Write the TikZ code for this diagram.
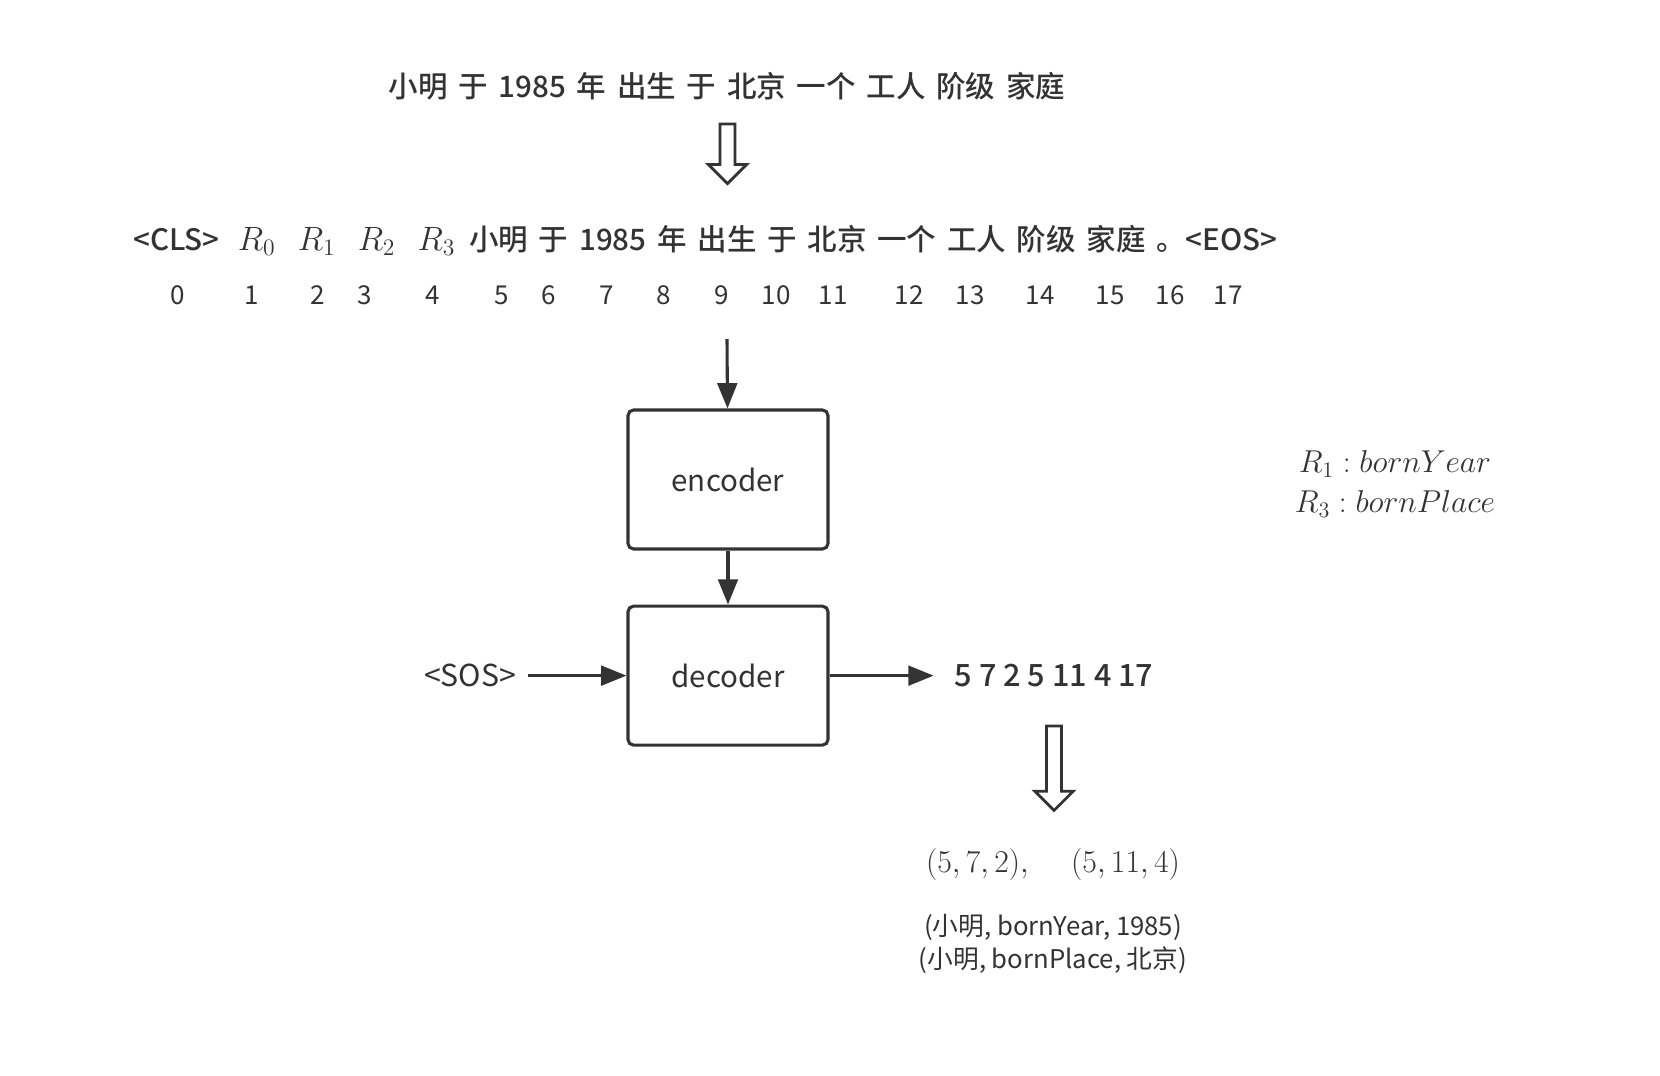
\RequirePackage{fix-cm}
\documentclass[tikz,border=0pt]{standalone}
\usepackage{fontspec}
\setmainfont{Noto Sans CJK SC}
\newfontfamily\rowfont{Noto Sans CJK SC Medium}
\newfontfamily\medfont{Noto Sans CJK SC Medium}
\usepackage{amsmath}
\usetikzlibrary{arrows.meta, positioning, shapes.arrows}
\definecolor{ink}{HTML}{333333}
\newcommand\widespaces{\spaceskip=\dimexpr\fontdimen2\font+2.9pt\relax}

\begin{document}
\begin{tikzpicture}[
    x=0.025cm, y=-0.025cm,
    box/.style={rectangle, draw=ink, line width=2.2pt, rounded corners=4pt, minimum width=5cm, minimum height=3.475cm, font=\fontsize{21}{25}\selectfont, text=ink},
    words/.style={font=\fontsize{21}{25}\selectfont\rowfont, execute at begin node=\widespaces, text=ink, inner sep=0pt},
    idx/.style={font=\fontsize{18.5}{22}\selectfont, text=ink, inner sep=0pt},
    plain/.style={font=\fontsize{21.5}{25}\selectfont, text=ink},
    hollow/.style={single arrow, draw=ink, line width=2pt, rotate=-90, inner sep=0.154cm, single arrow head extend=0.29cm},
    arrow/.style={-{Triangle[length=18pt, width=14pt]}, draw=ink, line width=2.2pt},
]
\useasboundingbox (0,0) rectangle (1660,1076);

% input sentence and tokens
\node[words] (sent) at (727,86) {小明 于 1985 年 出生 于 北京 一个 工人 阶级 家庭};
\node[hollow, minimum height=1.49cm] (down1) at (727.5,150) {};
\node[words, anchor=west] (tokens) at (133,240) {<CLS>\hspace{13pt}{\fontsize{24}{28}\selectfont$R_0$\hspace{16pt}$R_1$\hspace{16pt}$R_2$\hspace{16pt}$R_3$}\hspace{10pt}小明 于 1985 年 出生 于 北京 一个 工人 阶级 家庭 。<EOS>};

\foreach \i/\x in {0/178, 1/252, 2/318, 3/365, 4/433, 5/502, 6/549, 7/607, 8/664, 9/722, 10/776, 11/833, 12/909, 13/970, 14/1040, 15/1110, 16/1170, 17/1228}
    \node[idx] (idx\i) at (\x,295) {\i};

% model
\coordinate (feed) at (727,339);
\node[box] (enc) at (728,479.5) {encoder};
\node[box, below=1.35cm of enc] (dec) {decoder};
\node[plain, inner xsep=0.3cm, left=2.45cm of dec] (sos) {<SOS>};
\node[plain, font=\fontsize{21.8}{25}\selectfont\medfont, inner xsep=0.52cm, right=2.6cm of dec] (out) {5 7 2 5 11 4 17};

\draw[arrow] (feed) -- (enc);
\draw[arrow] (enc) -- (dec);
\draw[arrow] (sos) -- (dec);
\draw[arrow] (dec) -- (out);

% output triples
\node[hollow, minimum height=2.11cm] (down2) at (1054,764.5) {};
\node[plain, font=\fontsize{22.6}{26}\selectfont] (pairs) at (1053,865) {$(5,7,2),\quad\,(5,11,4)$};
\node[plain, font=\fontsize{18.3}{23.5}\selectfont, align=center] (facts) at (1053,943.5) {(小明, bornYear, 1985)\\(小明, bornPlace, 北京)};

% relation legend
\node[plain, font=\fontsize{22.5}{28.5}\selectfont, align=center] (rels) at (1395,484) {$R_1 : bornYear$\\$R_3 : bornPlace$};

\end{tikzpicture}
\end{document}
